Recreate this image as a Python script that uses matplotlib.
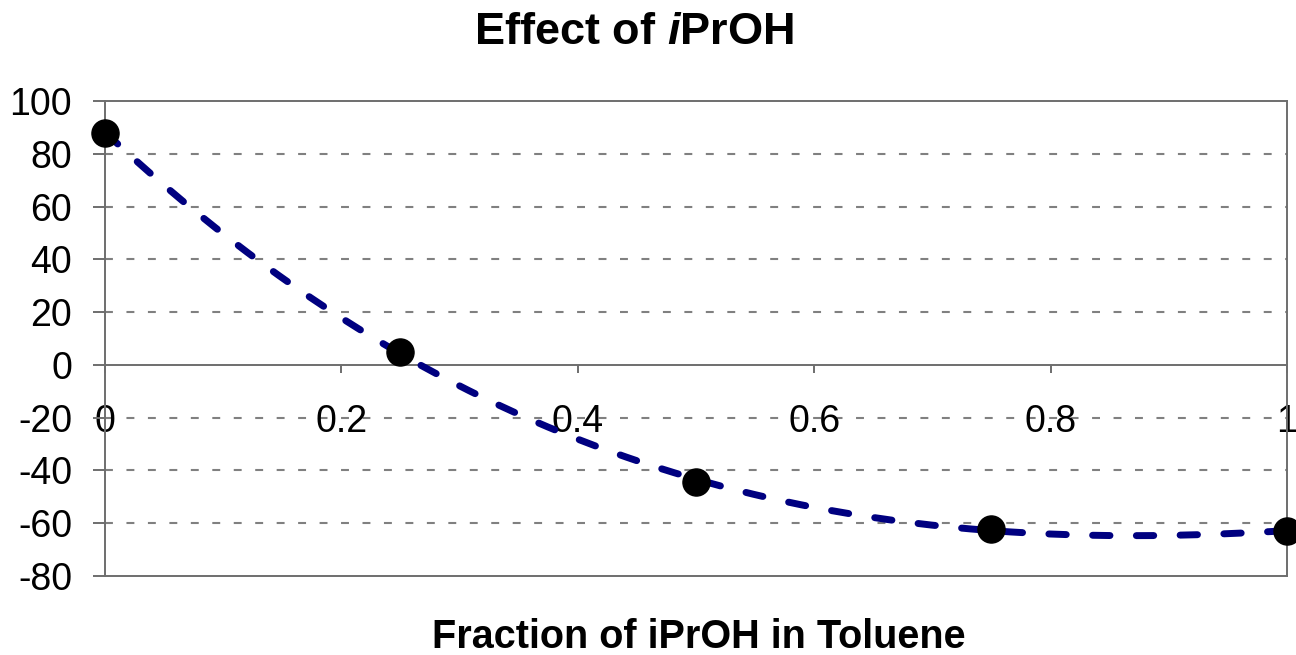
import numpy as np
import matplotlib
matplotlib.use("Agg")
import matplotlib.pyplot as plt

# data
fraction = [0.0, 0.25, 0.5, 0.75, 1.0]
effect = [88, 5, -44.5, -62, -63]
x_ticks = [0, 0.2, 0.4, 0.6, 0.8, 1]
x_tick_labels = ["0", "0.2", "0.4", "0.6", "0.8", "1"]
y_ticks = [-80, -60, -40, -20, 0, 20, 40, 60, 80, 100]

plt.rcParams['font.family'] = ['Liberation Sans', 'DejaVu Sans']
plt.rcParams['mathtext.fontset'] = 'custom'
plt.rcParams['mathtext.it'] = 'Liberation Sans:italic:bold'
plt.rcParams['mathtext.rm'] = 'Liberation Sans:bold'
plt.rcParams['mathtext.bf'] = 'Liberation Sans:bold'
plt.rcParams['axes.unicode_minus'] = False

fig = plt.figure(figsize=(12.96, 6.55), dpi=100)
ax = fig.add_axes([0.081, 0.1206, 0.912, 0.7252])

spine_col = '#6e6e6e'

# trendline (cubic fit of the data)
coef = np.polyfit(fraction, effect, 3)
xs = np.linspace(0, 1, 300)
line, = ax.plot(xs, np.polyval(coef, xs), color='#000080', lw=5.0,
                dash_capstyle='round', zorder=3)
line.set_dashes([2.5, 3.8])

ax.plot(fraction, effect, 'o', color='black', ms=19.5, zorder=4, clip_on=False)

ax.set_xlim(0, 1)
ax.set_ylim(-80, 100)
ax.set_yticks(y_ticks)
ax.set_xticks(x_ticks)
ax.set_xticklabels(x_tick_labels)

for yv in y_ticks:
    if yv not in (-80, 0, 100):
        ax.axhline(yv, color='#808080', lw=1.5, ls=(0, (3.8, 6.5)), zorder=1)

for s in ['left', 'right', 'top', 'bottom']:
    ax.spines[s].set_color(spine_col)
    ax.spines[s].set_linewidth(1.4)
ax.spines['bottom'].set_position(('data', 0))
ax.axhline(-80, color=spine_col, lw=1.4, zorder=2, clip_on=False)

ax.tick_params(axis='y', direction='out', length=8.6, width=1.4, color=spine_col,
               pad=15, labelsize=27)
ax.tick_params(axis='x', direction='out', length=5.8, width=1.4, color=spine_col,
               pad=22, labelsize=27)

fig.text(0.489, 0.951, r'Effect of $\mathit{i}$PrOH', ha='center', va='center',
         fontsize=32.5, fontweight='bold')
fig.text(0.539, 0.027, 'Fraction of iPrOH in Toluene', ha='center', va='center',
         fontsize=28.5, fontweight='bold')

fig.savefig('out.png', dpi=100)
